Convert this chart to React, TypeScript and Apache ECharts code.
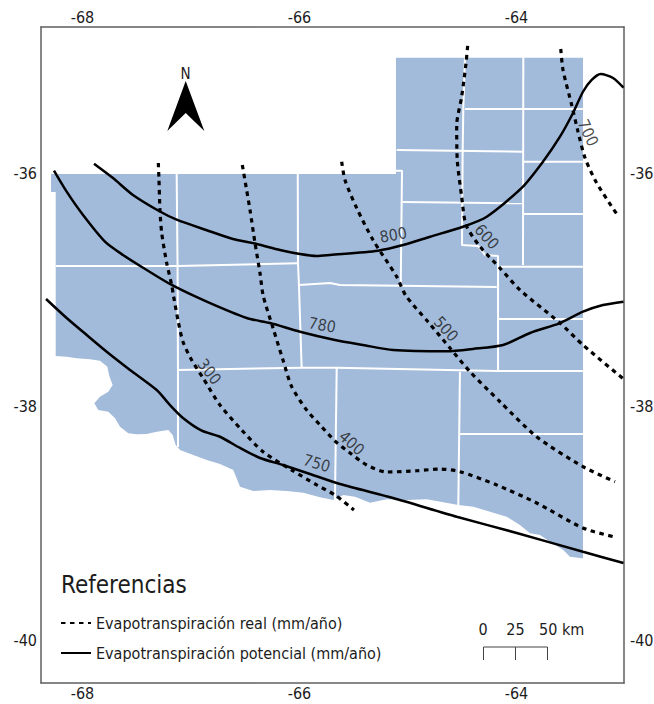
import React, { useEffect, useRef } from "react";
import * as echarts from "echarts";

type P = [number, number];

const lonTicks = [-68, -66, -64];
const latTicks = [-36, -38, -40];
const lonRange: P = [-68.3825, -63.009];
const latRange: P = [-40.368, -34.7495];

const REAL = "Evapotranspiración real (mm/año)";
const POT = "Evapotranspiración potencial (mm/año)";

const region: P[] = [
  [-68.29, -36.009], [-68.29, -36.163], [-68.247, -36.163], [-68.247, -37.567], [-68.146, -37.573], [-68.053, -37.587],
  [-67.931, -37.596], [-67.839, -37.608], [-67.771, -37.659], [-67.753, -37.739], [-67.722, -37.816], [-67.762, -37.873],
  [-67.839, -37.916], [-67.891, -37.972], [-67.854, -38.03], [-67.762, -38.044], [-67.7, -38.101], [-67.654, -38.173],
  [-67.578, -38.229], [-67.5, -38.238], [-67.408, -38.235], [-67.316, -38.216], [-67.209, -38.201], [-67.169, -38.244],
  [-67.141, -38.33], [-67.101, -38.372], [-66.979, -38.415], [-66.855, -38.458], [-66.733, -38.492], [-66.61, -38.544],
  [-66.573, -38.629], [-66.548, -38.687], [-66.426, -38.724], [-66.272, -38.715], [-66.118, -38.724], [-65.965, -38.738],
  [-65.811, -38.778], [-65.688, -38.801], [-65.596, -38.758], [-65.488, -38.772], [-65.35, -38.824], [-65.196, -38.795],
  [-65.012, -38.801], [-64.828, -38.795], [-64.675, -38.82], [-64.536, -38.844], [-64.398, -38.858], [-64.244, -38.901],
  [-64.09, -38.944], [-63.968, -39.015], [-63.875, -39.086], [-63.783, -39.101], [-63.691, -39.158], [-63.569, -39.229],
  [-63.507, -39.286], [-63.399, -39.3], [-63.387, -39.3], [-63.387, -35.012], [-65.111, -35.012], [-65.111, -36.009],
];

const borders: P[][] = [
  [[-68.247, -36.797], [-67.117, -36.797], [-66.014, -36.773]],
  [[-67.132, -36.009], [-67.124, -36.797], [-67.12, -37.687], [-67.12, -38.347]],
  [[-66.016, -36.009], [-66.014, -36.773], [-66.005, -36.959], [-65.98, -37.668]],
  [[-66.005, -36.959], [-65.719, -36.942], [-65.627, -36.959], [-65.069, -36.965], [-64.182, -36.976]],
  [[-65.111, -35.98], [-65.055, -35.98], [-65.067, -36.965]],
  [[-65.104, -35.803], [-63.94, -35.818]],
  [[-64.475, -35.015], [-64.49, -35.443], [-64.496, -35.803], [-64.502, -36.617], [-64.355, -36.625], [-64.29, -36.702], [-64.17, -36.711], [-64.17, -37.696]],
  [[-65.049, -36.248], [-63.943, -36.26]],
  [[-63.937, -35.012], [-63.94, -36.788]],
  [[-64.475, -35.452], [-63.387, -35.452]],
  [[-63.94, -35.903], [-63.387, -35.903]],
  [[-63.94, -36.351], [-63.387, -36.351]],
  [[-64.152, -36.803], [-63.387, -36.803]],
  [[-64.17, -37.25], [-63.387, -37.25]],
  [[-67.12, -37.687], [-65.98, -37.668], [-65.657, -37.668], [-64.182, -37.696], [-63.387, -37.696]],
  [[-65.657, -37.668], [-65.673, -38.8]],
  [[-64.521, -37.702], [-64.536, -38.844]],
  [[-64.521, -38.235], [-63.387, -38.235]],
];

const pot750: P[] = [
  [-68.336, -37.079], [-68.146, -37.242], [-67.961, -37.388], [-67.777, -37.531], [-67.562, -37.687], [-67.316, -37.859],
  [-67.194, -37.987], [-67.074, -38.098], [-66.901, -38.207], [-66.733, -38.259], [-66.548, -38.355], [-66.364, -38.441],
  [-66.152, -38.501], [-65.903, -38.578], [-65.627, -38.664], [-65.138, -38.784], [-64.551, -38.944], [-63.998, -39.083],
  [-63.387, -39.244], [-63.014, -39.34],
];
const pot780: P[] = [
  [-68.263, -35.98], [-68.146, -36.16], [-67.995, -36.36], [-67.793, -36.588], [-67.627, -36.702], [-67.408, -36.831],
  [-67.178, -36.959], [-66.855, -37.102], [-66.487, -37.242], [-66.272, -37.285], [-65.995, -37.359], [-65.673, -37.43],
  [-65.415, -37.473], [-65.138, -37.516], [-64.643, -37.527], [-64.401, -37.507], [-64.124, -37.473], [-63.875, -37.37],
  [-63.599, -37.285], [-63.387, -37.188], [-63.203, -37.131], [-63.014, -37.102],
];
const pot800: P[] = [
  [-67.894, -35.92], [-67.719, -36.043], [-67.535, -36.188], [-67.286, -36.33], [-67.132, -36.4], [-66.855, -36.49],
  [-66.613, -36.565], [-66.394, -36.608], [-66.18, -36.659], [-65.995, -36.694], [-65.841, -36.711], [-65.719, -36.702],
  [-65.276, -36.665], [-65.046, -36.617], [-64.797, -36.546], [-64.493, -36.46], [-64.274, -36.374], [-63.952, -36.128],
  [-63.756, -35.903], [-63.599, -35.689], [-63.479, -35.486], [-63.387, -35.304], [-63.307, -35.203], [-63.224, -35.152],
  [-63.11, -35.186], [-63.014, -35.269],
];
const real300: P[] = [
  [-67.301, -35.914], [-67.295, -36.06], [-67.286, -36.317], [-67.27, -36.514], [-67.224, -36.771], [-67.178, -36.959],
  [-67.161, -37.053], [-67.117, -37.274], [-67.074, -37.445], [-66.994, -37.602], [-66.889, -37.756], [-66.733, -37.987],
  [-66.533, -38.201], [-66.336, -38.387], [-66.072, -38.544], [-65.841, -38.672], [-65.673, -38.758], [-65.498, -38.886],
];
const real400: P[] = [
  [-66.527, -35.931], [-66.487, -36.146], [-66.456, -36.317], [-66.41, -36.6], [-66.364, -36.857], [-66.334, -37.053],
  [-66.244, -37.328], [-66.152, -37.602], [-66.072, -37.83], [-65.934, -38.03], [-65.811, -38.158], [-65.673, -38.295],
  [-65.534, -38.398], [-65.381, -38.501], [-65.196, -38.561], [-64.92, -38.55], [-64.705, -38.535], [-64.521, -38.558],
  [-64.182, -38.672], [-63.814, -38.826], [-63.387, -39.041], [-63.092, -39.118],
];
const real500: P[] = [
  [-65.611, -35.903], [-65.581, -36.06], [-65.473, -36.3], [-65.322, -36.574], [-65.104, -36.888], [-65.018, -37.053],
  [-64.816, -37.274], [-64.613, -37.499], [-64.428, -37.702], [-64.152, -37.959], [-63.814, -38.259], [-63.387, -38.515],
  [-63.092, -38.644],
];
const real600: P[] = [
  [-64.45, -34.912], [-64.465, -35.058], [-64.505, -35.346], [-64.551, -35.589], [-64.546, -35.889], [-64.505, -36.203],
  [-64.465, -36.445], [-64.336, -36.631], [-64.152, -36.814], [-63.968, -37.002], [-63.599, -37.285], [-63.387, -37.473],
  [-63.014, -37.764],
];
const real700: P[] = [
  [-63.592, -34.938], [-63.571, -35.118], [-63.491, -35.418], [-63.433, -35.646], [-63.368, -35.872], [-63.261, -36.086],
  [-63.076, -36.351],
];

const contourLabels: { name: string; value: P; rotate: number }[] = [
  { name: "300", value: [-66.831, -37.702], rotate: -52 },
  { name: "400", value: [-65.519, -38.313], rotate: -42 },
  { name: "500", value: [-64.65, -37.336], rotate: -48 },
  { name: "600", value: [-64.274, -36.546], rotate: -48 },
  { name: "700", value: [-63.341, -35.655], rotate: -65 },
  { name: "800", value: [-65.135, -36.531], rotate: 10 },
  { name: "780", value: [-65.79, -37.302], rotate: -10 },
  { name: "750", value: [-65.841, -38.486], rotate: -17 },
];

const FONT = '"DejaVu Sans Condensed", "DejaVu Sans", sans-serif';
const TEXT = "#1c1c1c";
const FRAME = "#5f5f5f";

function lonAxis(position: "top" | "bottom") {
  return {
    type: "value", position, min: lonRange[0], max: lonRange[1], splitLine: { show: false },
    axisLine: { show: true, onZero: false, lineStyle: { color: FRAME, width: 1.5 } },
    axisTick: { show: false },
    axisLabel: { show: true, customValues: lonTicks, color: TEXT, fontFamily: FONT, fontSize: 16, margin: 2 },
  };
}
function latAxis(position: "left" | "right", margin: number) {
  return {
    type: "value", position, min: latRange[0], max: latRange[1], splitLine: { show: false },
    axisLine: { show: true, onZero: false, lineStyle: { color: FRAME, width: 1.5 } },
    axisTick: { show: false },
    axisLabel: { show: true, customValues: latTicks, color: TEXT, fontFamily: FONT, fontSize: 16, margin },
  };
}
function contour(name: string, data: P[], dashed: boolean) {
  return {
    type: "line", name, data, symbol: "none", smooth: 0.25, z: 5, silent: true,
    itemStyle: { color: "#000" },
    lineStyle: dashed
      ? { color: "#000", width: 3.2, type: [4.5, 4.5] as number[] }
      : { color: "#000", width: 2.5 },
  };
}

export default function App() {
  const ref = useRef<HTMLDivElement>(null);
  useEffect(() => {
    const chart = echarts.init(ref.current!, undefined, { renderer: "svg" });
    const txt = (x: number, y: number, text: string, fontSize: number, align = "center") => ({
      type: "text", x, y,
      style: { text, fontSize, fontFamily: FONT, fill: TEXT, align, verticalAlign: "middle" },
    });
    chart.setOption({
      animation: false,
      backgroundColor: "#ffffff",
      grid: { left: 41, top: 27, width: 583, height: 656, containLabel: false, outerBoundsMode: "none" },
      xAxis: [lonAxis("bottom"), lonAxis("top")],
      yAxis: [latAxis("left", 4), latAxis("right", 6)],
      legend: {
        left: 60, top: 615, orient: "vertical", padding: 0, itemWidth: 30, itemHeight: 14, itemGap: 14,
        selectedMode: false, data: [{ name: REAL }, { name: POT }],
        itemStyle: { color: "transparent", opacity: 0, borderWidth: 0 },
        textStyle: { color: TEXT, fontFamily: FONT, fontSize: 16 },
      },
      series: [
        {
          type: "custom", name: "Región", z: 1, silent: true, data: [[region[0][0], region[0][1]]],
          renderItem: (_: unknown, api: any) => ({
            type: "polygon",
            shape: { points: region.map((p) => api.coord(p)) },
            style: { fill: "#a3bbdb", stroke: "none" },
          }),
        },
        ...borders.map((b) => ({
          type: "line", name: "Límites", data: b, symbol: "none", z: 2, silent: true,
          lineStyle: { color: "#ffffff", width: 2 },
        })),
        contour(POT, pot750, false),
        contour(POT, pot780, false),
        contour(POT, pot800, false),
        contour(REAL, real300, true),
        contour(REAL, real400, true),
        contour(REAL, real500, true),
        contour(REAL, real600, true),
        contour(REAL, real700, true),
        {
          type: "scatter", name: "Isolíneas", symbolSize: 1, z: 6, silent: true,
          itemStyle: { color: "transparent" },
          label: { show: true, position: "inside", formatter: "{b}", color: TEXT, fontFamily: FONT, fontSize: 16 },
          data: contourLabels.map((l) => ({ name: l.name, value: l.value, label: { rotate: l.rotate } })),
        },
      ],
      graphic: [
        { type: "polygon", shape: { points: [[185.7, 81], [167.3, 131], [185.7, 113], [204.3, 131]] }, style: { fill: "#000" } },
        txt(185.5, 74, "N", 15),
        txt(61, 585, "Referencias", 24, "left"),
        txt(483, 629, "0", 16),
        txt(515.5, 629, "25", 16),
        txt(539, 629, "50 km", 16, "left"),
        {
          type: "polyline",
          shape: { points: [[483.5, 660], [483.5, 647], [547.5, 647], [547.5, 660]] },
          style: { fill: "none", stroke: "#444", lineWidth: 1 },
        },
        { type: "line", shape: { x1: 515.5, y1: 647, x2: 515.5, y2: 660 }, style: { stroke: "#444", lineWidth: 1 } },
      ],
    });
    return () => chart.dispose();
  }, []);
  return <div ref={ref} style={{ position: "absolute", left: 0, top: 0, width: 654, height: 704 }} />;
}
